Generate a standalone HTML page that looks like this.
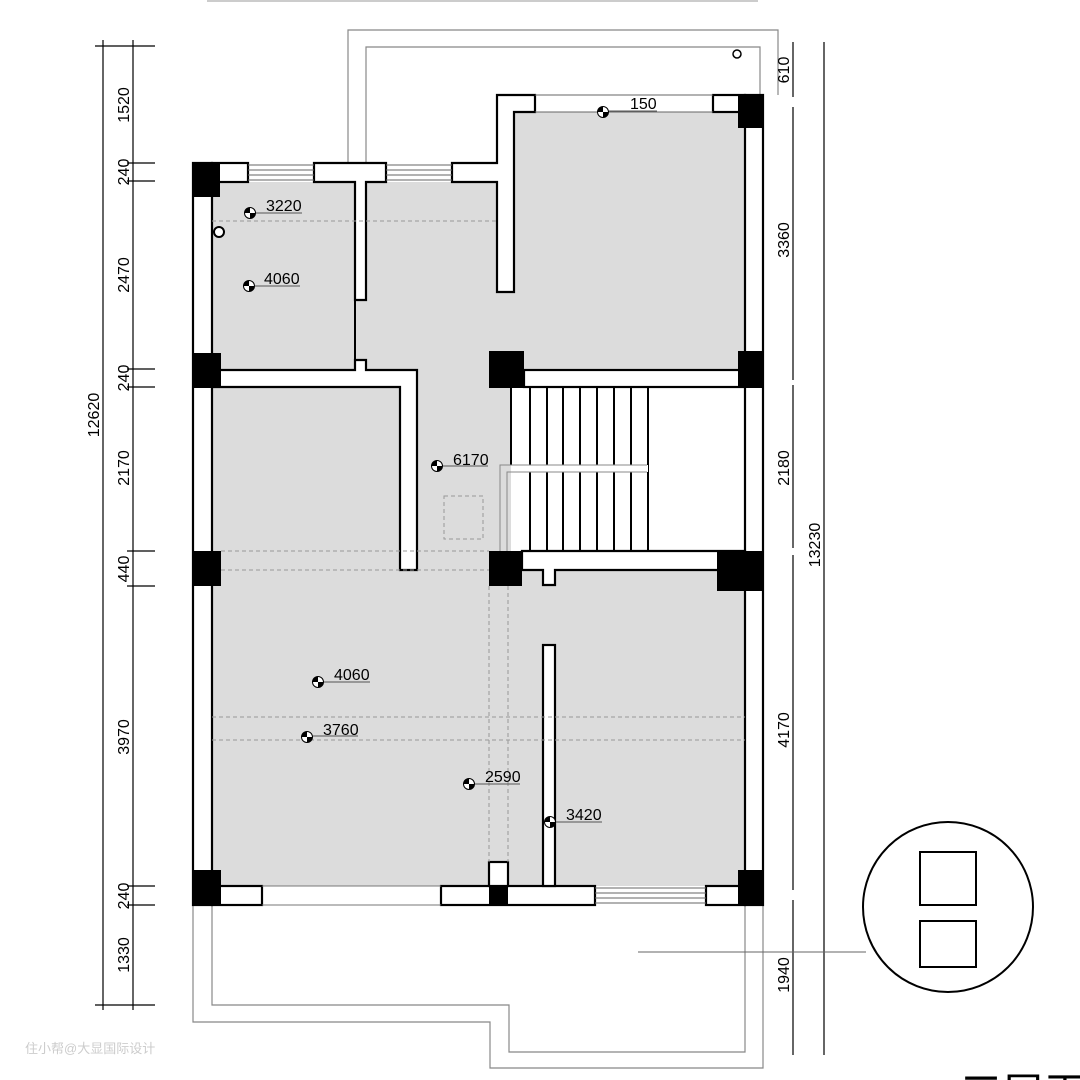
<!DOCTYPE html>
<html><head><meta charset="utf-8"><style>html,body{margin:0;padding:0;background:#fff}svg{display:block}</style></head>
<body>
<svg width="1080" height="1080" viewBox="0 0 1080 1080" xmlns="http://www.w3.org/2000/svg" font-family="Liberation Sans, sans-serif">
<rect width="1080" height="1080" fill="#fff"/>
<!-- top faint line -->
<line x1="207" y1="1" x2="758" y2="1" stroke="#999" stroke-width="1"/>
<!-- top balcony outline -->
<polyline points="348,163 348,30 778,30 778,95" fill="none" stroke="#888" stroke-width="1.2"/>
<polyline points="366,163 366,47 760,47 760,95" fill="none" stroke="#888" stroke-width="1.2"/>
<circle cx="737" cy="54" r="4" fill="#fff" stroke="#000" stroke-width="1.5"/>
<!-- bottom terrace outline -->
<polyline points="193,905 193,1022 490,1022 490,1068 763,1068 763,905" fill="none" stroke="#888" stroke-width="1.2"/>
<polyline points="212,905 212,1005 509,1005 509,1052 745,1052 745,905" fill="none" stroke="#888" stroke-width="1.2"/>

<!-- gray floor -->
<path d="M212,182 L497,182 L497,112 L745,112 L745,370 L524,370 L524,388 L511,388 L511,551 L745,551 L745,886 L212,886 Z" fill="#dcdcdc"/>
<!-- stair area -->
<rect x="511" y="388" width="234" height="163" fill="#fff"/>

<g stroke="#000" stroke-width="2.2" fill="#fff">
<!-- outer walls -->
<rect x="193" y="163" width="19" height="742"/>
<rect x="745" y="95" width="18" height="810"/>
<!-- top left walls -->
<rect x="212" y="163" width="36" height="19"/>
<path d="M314,163 H386 V182 H366 V300 H355 V182 H314 Z"/>
<path d="M452,163 H497 V95 H535 V112 H514 V292 H497 V182 H452 Z"/>
<rect x="713" y="95" width="32" height="17"/>
<!-- mid walls -->
<path d="M212,370 H355 V360 H366 V370 H417 V570 H400 V387 H212 Z"/>
<rect x="524" y="370" width="221" height="17"/>
<path d="M522,551 H745 V570 H555 V585 H543 V570 H522 Z"/>
<!-- bottom walls -->
<rect x="212" y="886" width="50" height="19"/>
<rect x="441" y="886" width="154" height="19"/>
<rect x="706" y="886" width="39" height="19"/>
<rect x="489" y="862" width="19" height="24"/>
<rect x="543" y="645" width="12" height="241"/>
</g>
<line x1="355" y1="300" x2="355" y2="365" stroke="#000" stroke-width="2"/>
<line x1="262" y1="886" x2="441" y2="886" stroke="#777" stroke-width="1"/>
<line x1="262" y1="905" x2="441" y2="905" stroke="#777" stroke-width="1"/>
<!-- windows -->
<g stroke="#666" stroke-width="1">
<line x1="248" y1="165" x2="314" y2="165"/><line x1="248" y1="170" x2="314" y2="170"/><line x1="248" y1="175" x2="314" y2="175"/><line x1="248" y1="180" x2="314" y2="180"/>
<line x1="386" y1="165" x2="452" y2="165"/><line x1="386" y1="170" x2="452" y2="170"/><line x1="386" y1="175" x2="452" y2="175"/><line x1="386" y1="180" x2="452" y2="180"/>
<line x1="535" y1="95" x2="713" y2="95"/><line x1="535" y1="112" x2="713" y2="112"/>
<line x1="595" y1="888" x2="706" y2="888"/><line x1="595" y1="893" x2="706" y2="893"/><line x1="595" y1="898" x2="706" y2="898"/><line x1="595" y1="903" x2="706" y2="903"/>
</g>
<!-- columns -->
<g fill="#000">
<rect x="193" y="163" width="27" height="34"/>
<rect x="193" y="353" width="28" height="35"/>
<rect x="193" y="551" width="28" height="35"/>
<rect x="193" y="870" width="28" height="35"/>
<rect x="738" y="95" width="25" height="33"/>
<rect x="738" y="351" width="25" height="37"/>
<rect x="489" y="351" width="35" height="37"/>
<rect x="489" y="551" width="33" height="35"/>
<rect x="717" y="551" width="46" height="40"/>
<rect x="738" y="870" width="25" height="35"/>
<rect x="489" y="886" width="19" height="19"/>
</g>
<!-- stairs -->
<g stroke="#000" stroke-width="2">
<line x1="511" y1="388" x2="511" y2="465"/>
<line x1="530" y1="388" x2="530" y2="551"/><line x1="547" y1="388" x2="547" y2="551"/><line x1="563" y1="388" x2="563" y2="551"/><line x1="580" y1="388" x2="580" y2="551"/><line x1="597" y1="388" x2="597" y2="551"/><line x1="614" y1="388" x2="614" y2="551"/><line x1="631" y1="388" x2="631" y2="551"/><line x1="648" y1="388" x2="648" y2="551"/>
</g>
<rect x="511" y="465" width="137" height="7" fill="#fff"/>
<g stroke="#888" stroke-width="1" fill="none">
<polyline points="500,551 500,465 647,465"/>
<polyline points="507,551 507,472 647,472"/>
</g>
<!-- dashed -->
<g stroke="#999" stroke-width="1" stroke-dasharray="4,3" fill="none">
<line x1="212" y1="221" x2="497" y2="221"/>
<line x1="221" y1="551" x2="489" y2="551"/>
<line x1="221" y1="570" x2="489" y2="570"/>
<line x1="489" y1="586" x2="489" y2="862"/>
<line x1="508" y1="586" x2="508" y2="862"/>
<line x1="212" y1="717" x2="745" y2="717"/>
<line x1="212" y1="740" x2="745" y2="740"/>
<rect x="444" y="496" width="39" height="43"/>
</g>
<circle cx="219" cy="232" r="5" fill="#fff" stroke="#000" stroke-width="2"/>

<!-- elevation marks -->
<defs>
<g id="em"><circle r="5.5" fill="#fff" stroke="#000" stroke-width="1"/><path d="M0,0 L5.5,0 A5.5,5.5 0 0 1 0,5.5 Z M0,0 L-5.5,0 A5.5,5.5 0 0 1 0,-5.5 Z" fill="#000"/></g>
</defs>
<g font-size="16" fill="#000">
<use href="#em" x="603" y="112"/><line x1="609" y1="111" x2="657" y2="111" stroke="#555"/><text x="630" y="109">150</text>
<use href="#em" x="250" y="213"/><line x1="256" y1="213" x2="302" y2="213" stroke="#555"/><text x="266" y="211">3220</text>
<use href="#em" x="249" y="286"/><line x1="255" y1="286" x2="300" y2="286" stroke="#555"/><text x="264" y="284">4060</text>
<use href="#em" x="437" y="466"/><line x1="443" y1="466" x2="488" y2="466" stroke="#555"/><text x="453" y="465">6170</text>
<use href="#em" x="318" y="682"/><line x1="324" y1="682" x2="370" y2="682" stroke="#555"/><text x="334" y="680">4060</text>
<use href="#em" x="307" y="737"/><line x1="313" y1="736" x2="358" y2="736" stroke="#555"/><text x="323" y="735">3760</text>
<use href="#em" x="469" y="784"/><line x1="475" y1="784" x2="520" y2="784" stroke="#555"/><text x="485" y="782">2590</text>
<use href="#em" x="550" y="822"/><line x1="556" y1="822" x2="602" y2="822" stroke="#555"/><text x="566" y="820">3420</text>
</g>

<!-- left dimensions -->
<g stroke="#000" stroke-width="1.2">
<line x1="103" y1="40" x2="103" y2="1010"/>
<line x1="133" y1="40" x2="133" y2="1010"/>
<line x1="95" y1="46" x2="155" y2="46"/>
<line x1="127" y1="163" x2="155" y2="163"/><line x1="127" y1="181" x2="155" y2="181"/>
<line x1="127" y1="369" x2="155" y2="369"/><line x1="127" y1="387" x2="155" y2="387"/>
<line x1="127" y1="551" x2="155" y2="551"/><line x1="127" y1="586" x2="155" y2="586"/>
<line x1="127" y1="886" x2="155" y2="886"/><line x1="127" y1="905" x2="155" y2="905"/>
<line x1="95" y1="1005" x2="155" y2="1005"/>
</g>
<g font-size="16" fill="#000" text-anchor="middle">
<text transform="translate(129,105) rotate(-90)">1520</text>
<text transform="translate(129,172) rotate(-90)">240</text>
<text transform="translate(129,275) rotate(-90)">2470</text>
<text transform="translate(129,378) rotate(-90)">240</text>
<text transform="translate(129,468) rotate(-90)">2170</text>
<text transform="translate(99,415) rotate(-90)">12620</text>
<text transform="translate(129,569) rotate(-90)">440</text>
<text transform="translate(129,737) rotate(-90)">3970</text>
<text transform="translate(129,896) rotate(-90)">240</text>
<text transform="translate(129,955) rotate(-90)">1330</text>
</g>
<!-- right dimensions -->
<g stroke="#000" stroke-width="1.2">
<line x1="793" y1="42" x2="793" y2="97"/>
<line x1="793" y1="107" x2="793" y2="380"/>
<line x1="793" y1="385" x2="793" y2="548"/>
<line x1="793" y1="555" x2="793" y2="890"/>
<line x1="793" y1="900" x2="793" y2="1055"/>
<line x1="824" y1="42" x2="824" y2="1055"/>
</g>
<g font-size="16" fill="#000" text-anchor="middle">
<text transform="translate(789,70) rotate(-90)">610</text>
<text transform="translate(789,240) rotate(-90)">3360</text>
<text transform="translate(789,468) rotate(-90)">2180</text>
<text transform="translate(789,730) rotate(-90)">4170</text>
<text transform="translate(789,975) rotate(-90)">1940</text>
<text transform="translate(820,545) rotate(-90)">13230</text>
</g>
<!-- callout -->
<line x1="638" y1="952" x2="866" y2="952" stroke="#666" stroke-width="1"/>
<circle cx="948" cy="907" r="85" fill="#fff" stroke="#000" stroke-width="2"/>
<rect x="920" y="852" width="56" height="53" fill="none" stroke="#000" stroke-width="2"/>
<rect x="920" y="921" width="56" height="46" fill="none" stroke="#000" stroke-width="2"/>
<!-- watermark / title -->
<text x="25" y="1053" font-size="13" fill="#ccc" font-family="Liberation Sans, Noto Sans CJK SC, sans-serif">住小帮@大显国际设计</text>
<text x="960" y="1108" font-size="42" fill="#000" font-family="Liberation Sans, Noto Sans CJK SC, sans-serif">三层平面图</text>
</svg>
</body></html>
